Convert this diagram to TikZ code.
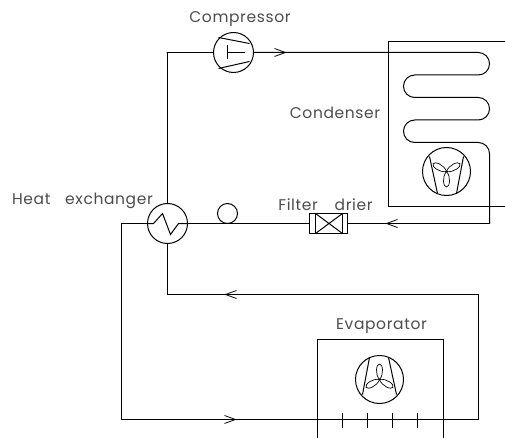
\documentclass[tikz,border=0pt]{standalone}
\usepackage{fontspec}
\setmainfont{Poppins}
\begin{document}
\begin{tikzpicture}[x=1pt,y=-1pt,shift={(0.5,0.5)},line width=1pt,black,
  dev/.style={draw,circle,inner sep=0pt,outer sep=0pt,minimum size=#1},
  lbl/.style={inner sep=0pt,text=black!70,font=\fontsize{15.5}{16}\selectfont\addfontfeatures{LetterSpace=4}},
  barb/.style={line width=0.8pt},
  blades/.pic={
    \draw (-17,-15) -- (-9,22) (17,-15) -- (10,22);
    \foreach \a in {0,120,240}
      \draw[rotate=\a,line width=0.7pt] (0,0) .. controls (-4.5,5) and (-3.5,15.5) .. (0,15.5) .. controls (3.5,15.5) and (4.5,5) .. (0,0);
  }]
\useasboundingbox (-0.5,-0.5) rectangle (504.5,437.5);
% devices
\node[dev=40pt] (comp) at (233,52) {};
\node[dev=40pt] (hx) at (167,223) {};
\node[dev=20pt] (bulb) at (227,213) {};
\node[dev=48pt] (cfan) at (446,171) {};
\node[dev=48pt] (efan) at (379,379) {};
\node[draw,minimum width=38pt,minimum height=20pt,inner sep=0pt,outer sep=0pt] (filter) at (328,223) {};
% labels
\node[lbl] (lcomp) at (239.5,19) {Compressor};
\node[lbl] (lhx) at (82,200) {Heat\hspace{10pt}~exchanger};
\node[lbl] (lcond) at (334.5,112) {Condenser};
\node[lbl] (lfilt) at (325,204) {Filter\hspace{12pt}~drier};
\node[lbl] (levap) at (381,326) {Evaporator};
% free corners
\coordinate (tl) at (166,52);
\coordinate (ret) at (166,294);
\coordinate (retR) at (478,294);
\coordinate (botR) at (478,419);
\coordinate (botL) at (121,419);
\coordinate (coilEnd) at (489,223);
% piping
\draw (hx.north) -- (hx.north |- tl) -- (tl) -- (comp.west);
\draw[rounded corners=11.2pt] (comp.east) -- (489,52) -- (489,74.5) -- (403,74.5) -- (403,97) -- (489,97) -- (489,119.5) -- (403,119.5) -- (403,142) -- (489,142) -- (coilEnd);
\draw (coilEnd) -- (filter.east);
\draw (filter.west) -- (hx.east);
\draw (hx.west) -- (121,223) -- (botL) -- (botR) -- (retR) -- (hx.south |- retR) -- (hx.south);
% flow chevrons
\draw[barb] (274,48) -- (285,52) -- (274,56);
\draw[barb] (397,219) -- (386,223) -- (397,227);
\draw[barb] (236,290) -- (225,294) -- (236,298);
\draw[barb] (224,415) -- (235,419) -- (224,423);
% compressor inside
\draw (218,37) -- (249,43) (218,68) -- (249,61);
\draw (227,45) -- (227,59);
\draw (227,52) -- (244,52);
% heat exchanger zigzag
\draw (hx.west) -- (153,223) -- (162,213) -- (170,234) -- (178,223) -- (hx.east);
% filter inner
\draw (315,213) -- (315,233) (342,213) -- (342,233);
\draw (315,213) -- (342,233) (315,233) -- (342,213);
% condenser box
\draw (505,41) -- (388,41) -- (388,206) -- (505,206);
\pic at (cfan.center) {blades};
% evaporator
\draw (317,438) -- (317,339) -- (443,339) -- (443,438);
\pic[rotate=180] at (efan.center) {blades};
\foreach \x in {342,367,392,417} \draw (\x,412) -- (\x,427);
\end{tikzpicture}
\end{document}
